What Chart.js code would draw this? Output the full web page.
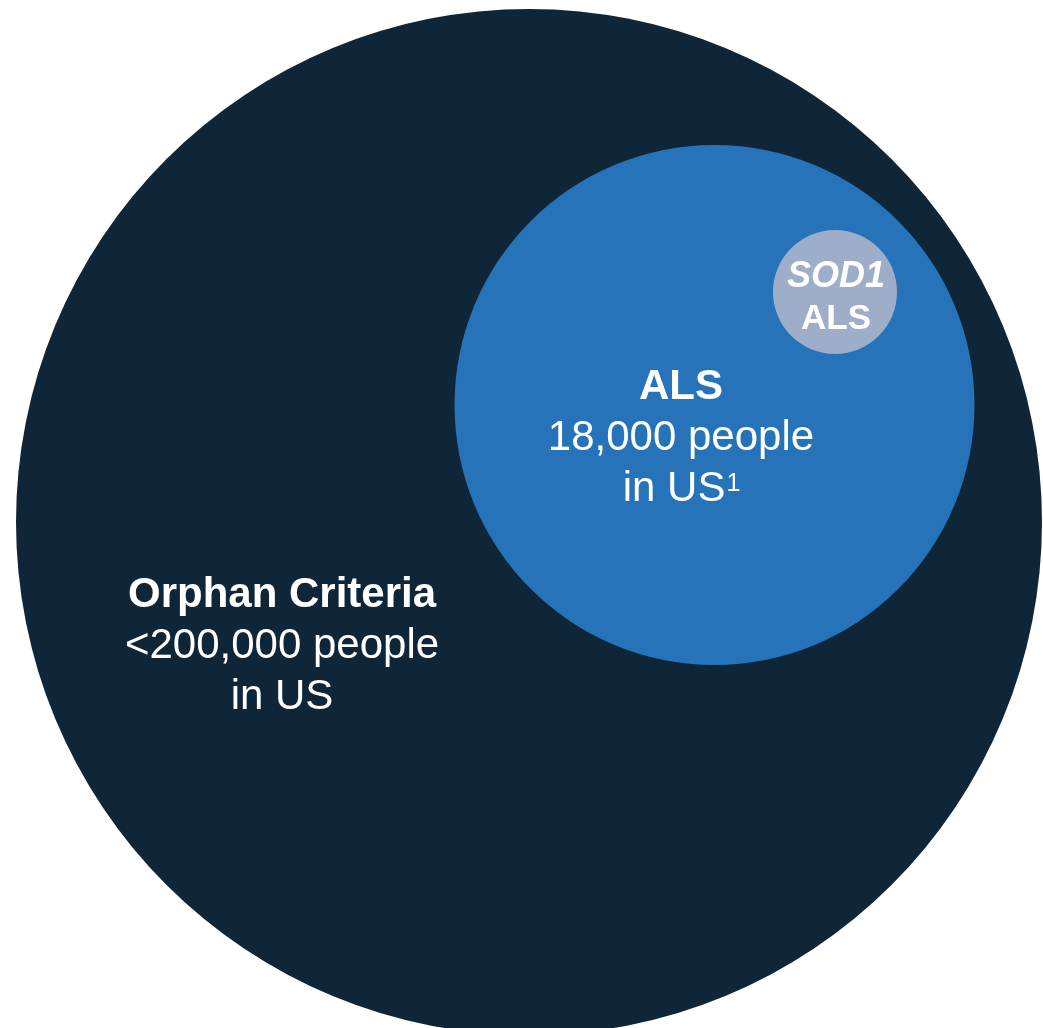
<!DOCTYPE html>
<html>
<head>
<meta charset="utf-8">
<title>Orphan Criteria / ALS / SOD1 ALS</title>
<script src="https://cdn.jsdelivr.net/npm/chart.js@4.4.1/dist/chart.umd.min.js"></script>
<style>
  html, body { margin: 0; padding: 0; background: #ffffff; }
  #wrap { position: relative; width: 1043px; height: 1028px; }
</style>
</head>
<body>
<div id="wrap"><canvas id="chart"></canvas></div>
<script>
// Nested populations: each circle is a point placed on a 1043 x 1028 unit plane
const circleNames = ['Orphan Criteria', 'ALS', 'SOD1 ALS'];
const centerX = [529, 714.5, 835];
const centerY = [522, 405, 292];
const radius = [513, 260, 62];
const circleColors = ['#0f2538', '#2673ba', '#9eaec8'];

// Text blocks drawn inside the circles
const orphanLines = ['Orphan Criteria', '<200,000 people', 'in US'];
const alsLines = ['ALS', '18,000 people', 'in US'];
const alsFootnote = '1';
const sod1Lines = ['SOD1', 'ALS'];

const points = circleNames.map((name, i) => ({ x: centerX[i], y: centerY[i], size: radius[i], name }));

const FONT = '"Liberation Sans", Arial, Helvetica, sans-serif';
const SUP_FONT = '25px ' + FONT;

// Text anchors in plane units: x = centre of line, y = baseline of first line, step = line spacing
const textBlocks = [
  { lines: orphanLines, x: 282, y: 607, step: 51,
    fonts: ['bold 42px ' + FONT, '42px ' + FONT, '42px ' + FONT] },
  { lines: alsLines, x: 681, y: 399, step: 51, footnote: alsFootnote,
    fonts: ['bold 42px ' + FONT, '42px ' + FONT, '42px ' + FONT] },
  { lines: sod1Lines, x: 836, y: 287, step: 42,
    fonts: ['italic bold 36px ' + FONT, 'bold 35px ' + FONT] }
];

const labelPlugin = {
  id: 'circleLabels',
  afterDatasetsDraw(chart) {
    const { ctx, scales } = chart;
    const sx = scales.x, sy = scales.y;
    const unit = Math.abs(sy.getPixelForValue(1) - sy.getPixelForValue(0));
    ctx.save();
    ctx.fillStyle = '#ffffff';
    ctx.textBaseline = 'alphabetic';
    textBlocks.forEach(block => {
      const cx = sx.getPixelForValue(block.x);
      block.lines.forEach((line, li) => {
        const by = sy.getPixelForValue(block.y + li * block.step);
        ctx.font = block.fonts[li];
        const isLast = li === block.lines.length - 1;
        if (block.footnote && isLast) {
          const mainW = ctx.measureText(line).width;
          ctx.font = SUP_FONT;
          const supW = ctx.measureText(block.footnote).width;
          const left = cx - (mainW + supW) / 2;
          ctx.textAlign = 'left';
          ctx.font = block.fonts[li];
          ctx.fillText(line, left, by);
          ctx.font = SUP_FONT;
          ctx.fillText(block.footnote, left + mainW + 1, by - 10 * unit);
        } else {
          ctx.textAlign = 'center';
          ctx.fillText(line, cx, by);
        }
      });
    });
    ctx.restore();
  }
};

// radius given in plane units, converted to pixels through the x scale
const radiusFromScale = (c) => {
  const s = c.chart.scales.x;
  const p = c.raw;
  if (!s || !p) return 0;
  return Math.abs(s.getPixelForValue(p.size) - s.getPixelForValue(0));
};

new Chart(document.getElementById('chart'), {
  type: 'scatter',
  data: {
    datasets: [{
      label: 'Population',
      data: points,
      showLine: false,
      pointBackgroundColor: circleColors,
      pointHoverBackgroundColor: circleColors,
      pointBorderWidth: 0,
      pointHoverBorderWidth: 0,
      pointRadius: radiusFromScale,
      pointHoverRadius: radiusFromScale,
      clip: false
    }]
  },
  options: {
    responsive: true,
    maintainAspectRatio: false,
    animation: false,
    events: [],
    layout: { padding: 0, autoPadding: false },
    plugins: { legend: { display: false }, tooltip: { enabled: false } },
    scales: {
      x: { type: 'linear', min: 0, max: 1043, display: false },
      y: { type: 'linear', min: 0, max: 1028, reverse: true, display: false }
    }
  },
  plugins: [labelPlugin]
});
</script>
</body>
</html>
